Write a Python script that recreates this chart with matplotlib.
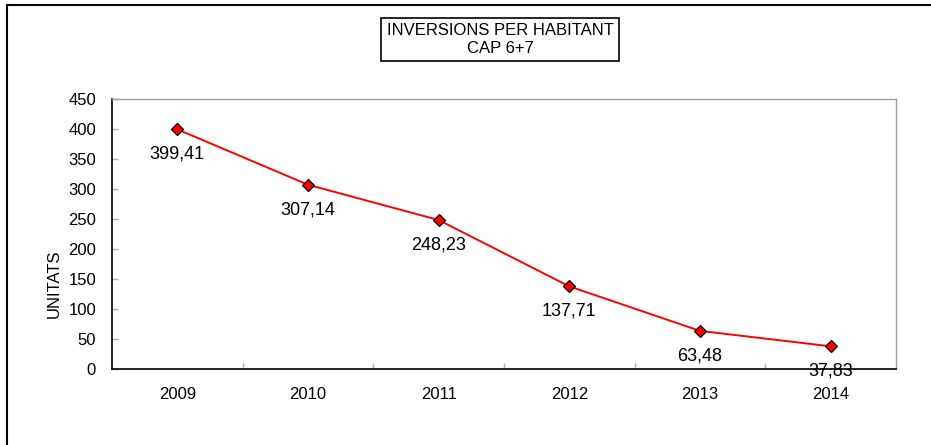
import matplotlib.pyplot as plt
from matplotlib.patches import Rectangle

years = ["2009", "2010", "2011", "2012", "2013", "2014"]
values = [399.41, 307.14, 248.23, 137.71, 63.48, 37.83]
value_labels = ["399,41", "307,14", "248,23", "137,71", "63,48", "37,83"]
y_ticks = [0, 50, 100, 150, 200, 250, 300, 350, 400, 450]

plt.rcParams["font.family"] = ["Liberation Sans", "DejaVu Sans"]

W, H = 931, 445
fig = plt.figure(figsize=(W / 100, H / 100), dpi=100)
ax = fig.add_axes([112 / W, 1 - 369 / H, (896 - 112) / W, (369 - 99) / H])

x = list(range(len(years)))
ax.plot(x, values, color="#ff0000", linewidth=1.4, marker="D", markersize=6,
        markerfacecolor="#ff0000", markeredgecolor="black", markeredgewidth=0.9,
        zorder=3)
for xi, v, lab in zip(x, values, value_labels):
    ax.annotate(lab, (xi, v), xytext=(0, -18), textcoords="offset points",
                ha="center", va="center", fontsize=13, color="black",
                zorder=4, annotation_clip=False)

ax.set_xlim(-0.5, len(years) - 0.5)
ax.set_ylim(0, 450)
ax.set_yticks(y_ticks)
ax.set_yticklabels([str(t) for t in y_ticks], fontsize=12)
ax.set_xticks(x)
ax.set_xticklabels(years, fontsize=12)
ax.set_xticks([i + 0.5 for i in x[:-1]], minor=True)
ax.tick_params(axis="x", which="major", length=0, pad=13)
ax.tick_params(axis="x", which="minor", direction="in", length=4,
               color="#b0b0b0", width=1)
ax.tick_params(axis="y", direction="in", length=4, color="#b0b0b0", width=1,
               pad=11.5)

ax.spines["left"].set_color("black")
ax.spines["bottom"].set_color("black")
ax.spines["left"].set_linewidth(1.2)
ax.spines["bottom"].set_linewidth(1.2)
ax.spines["top"].set_color("#a0a0a0")
ax.spines["right"].set_color("#a0a0a0")
ax.spines["top"].set_linewidth(1)
ax.spines["right"].set_linewidth(1)

# axis title sits below the middle, as in the original chart
fig.text(54 / W, 1 - 284 / H, "UNITATS", rotation=90, ha="center",
         va="center", fontsize=12)

# chart title inside a box
fig.text(500 / W, 1 - 39.5 / H, "INVERSIONS PER HABITANT\nCAP 6+7",
         ha="center", va="center", fontsize=12, linespacing=1.25,
         bbox=dict(boxstyle="square,pad=0.32", facecolor="white",
                   edgecolor="black", linewidth=1.2))

# outer chart-area frame (cut off at right and bottom)
fig.patches.append(Rectangle((7 / W, -0.1), 1.2, 1 - 5 / H + 0.1,
                             transform=fig.transFigure, facecolor="none",
                             edgecolor="black", linewidth=1.5))

fig.savefig("out.png", dpi=100)
